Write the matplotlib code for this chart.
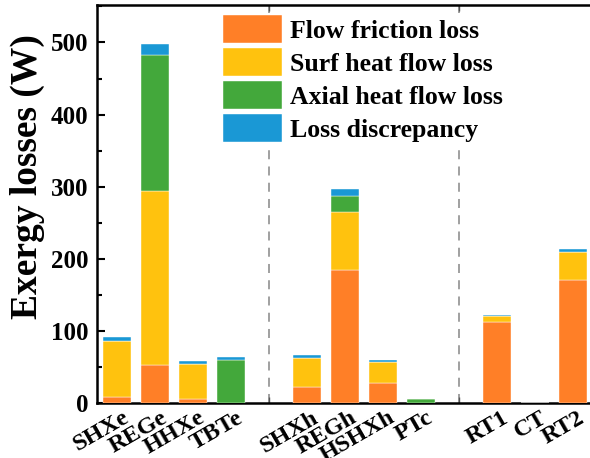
import matplotlib
matplotlib.use("Agg")
import matplotlib.pyplot as plt
import numpy as np
from matplotlib.ticker import MultipleLocator

plt.rcParams['font.family'] = ['Liberation Serif', 'DejaVu Serif']
plt.rcParams['font.weight'] = 'bold'

categories = ["SHXe", "REGe", "HHXe", "TBTe", "SHXh", "REGh", "HSHXh", "PTc", "RT1", "CT", "RT2"]
positions = [0, 1, 2, 3, 5, 6, 7, 8, 10, 11, 12]
separators = [4, 9]

flow_friction = [8, 53, 6, 0, 22, 184, 28, 0, 113, 0, 170]
surf_heat = [78, 241, 48, 0, 41, 81, 29, 0, 7, 0, 40]
axial_heat = [0, 188, 0, 60, 0, 22, 0, 5, 0, 0, 0]
discrepancy = [6, 16, 4, 4, 3, 10, 3, 0, 2, 0, 3]

series = [
    ("Flow friction loss", flow_friction, "#FF7F27"),
    ("Surf heat flow loss", surf_heat, "#FFC20E"),
    ("Axial heat flow loss", axial_heat, "#43A83B"),
    ("Loss discrepancy", discrepancy, "#1A98D5"),
]

fig = plt.figure(figsize=(5.9, 4.58), dpi=100)
ax = fig.add_axes([97/590, 55/458, 493/590, 398/458])

bottom = np.zeros(len(categories))
for label, vals, color in series:
    v = np.array(vals, dtype=float)
    ax.bar(positions, v, width=0.72, bottom=bottom, color=color, label=label,
           edgecolor='white', linewidth=0.3, zorder=3)
    bottom += v

for s in separators:
    ax.axvline(s, color='#999999', linestyle=(0, (5, 4)), linewidth=1.3, zorder=1)

ax.set_xlim(-0.53, 12.45)
ax.set_ylim(0, 552)
ax.yaxis.set_major_locator(MultipleLocator(100))
ax.yaxis.set_minor_locator(MultipleLocator(50))
ax.tick_params(axis='y', which='major', direction='in', length=6, width=1.5, labelsize=18, pad=6)
ax.tick_params(axis='y', which='minor', direction='in', length=3.5, width=1.5)

ax.set_xticks(separators)
ax.set_xticklabels(['', ''])
ax.set_xticks(positions, minor=True)
ax.set_xticklabels(categories, minor=True, rotation=30, ha='right', rotation_mode='anchor', fontsize=17.5)
ax.tick_params(axis='x', which='major', direction='in', length=4, width=1, top=True, colors='#555555')
ax.tick_params(axis='x', which='minor', length=0, pad=3, labelcolor='black')
for lbl in ax.get_xticklabels(minor=True):
    lbl.set_transform(lbl.get_transform() + matplotlib.transforms.ScaledTranslation(5/100, 0, fig.dpi_scale_trans))

for sp in ['left', 'bottom', 'top']:
    ax.spines[sp].set_linewidth(1.8)
ax.spines['right'].set_visible(False)

ax.set_ylabel("Exergy losses (W)", fontsize=27, fontweight='bold')
ax.yaxis.set_label_coords(-0.106, 0.57)

leg = ax.legend(loc='upper left', bbox_to_anchor=(0.253, 0.978), frameon=True,
                facecolor='white', edgecolor='none', framealpha=1, fancybox=False,
                fontsize=18.5, handlelength=2.3, handleheight=1.3, labelspacing=0.2,
                handletextpad=0.3, borderpad=0.05, borderaxespad=0)
leg.set_zorder(5)

fig.savefig("out.png", dpi=100)
